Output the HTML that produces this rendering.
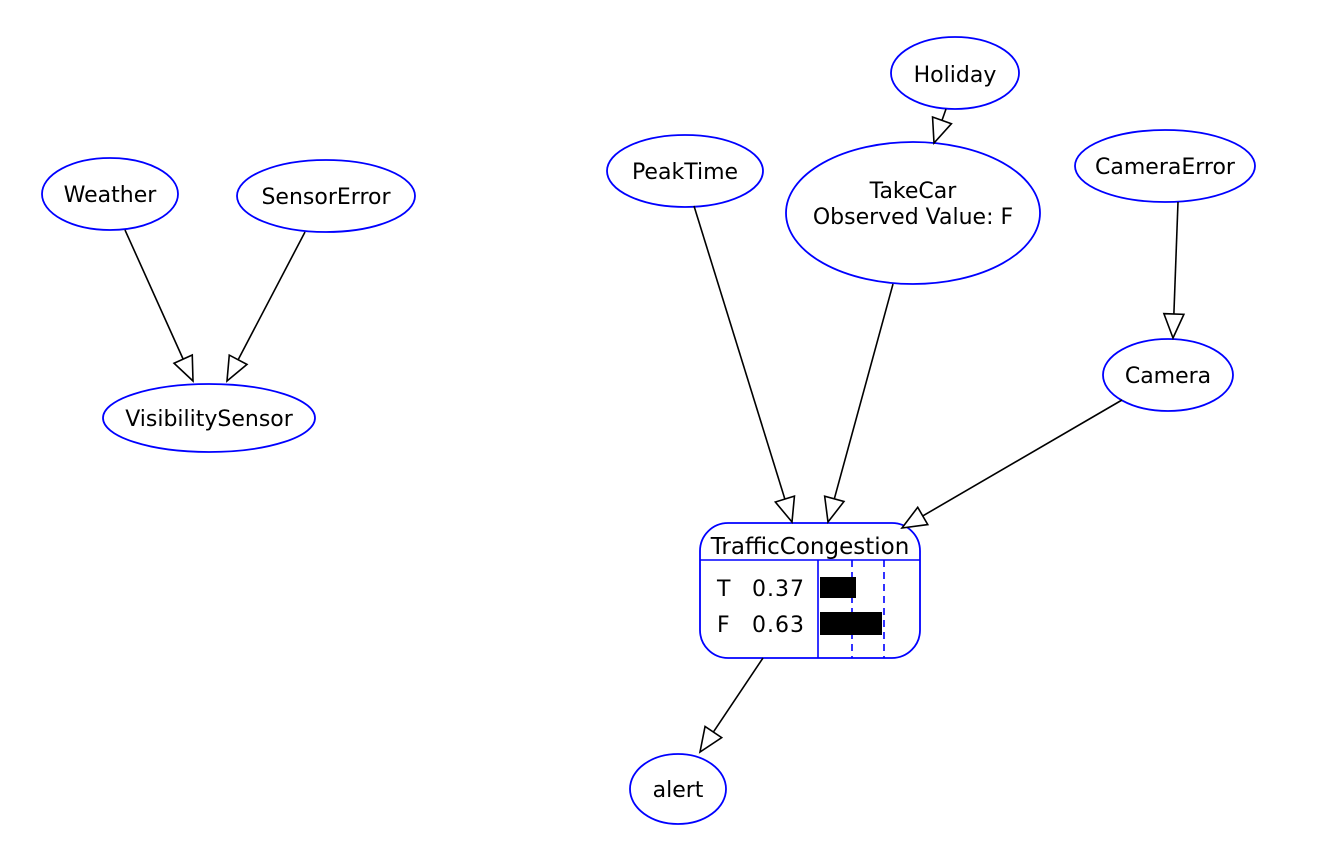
<!DOCTYPE html>
<html><head><meta charset="utf-8"><style>
html,body{margin:0;padding:0;background:#fff;}
svg text{font-family:"DejaVu Sans","Liberation Sans",sans-serif;font-size:22px;fill:#000;}
</style></head><body>
<svg id="s" width="1318" height="838" xmlns="http://www.w3.org/2000/svg">
<g fill="#fff" stroke="#0000ff" stroke-width="1.8">
<ellipse cx="110" cy="194" rx="68" ry="36"/>
<ellipse cx="326" cy="196" rx="89" ry="36"/>
<ellipse cx="209" cy="418" rx="106" ry="34"/>
<ellipse cx="685" cy="171" rx="78" ry="36"/>
<ellipse cx="955" cy="73" rx="64" ry="36"/>
<ellipse cx="913" cy="213" rx="127" ry="71"/>
<ellipse cx="1165" cy="166" rx="90" ry="36"/>
<ellipse cx="1168" cy="375" rx="65" ry="36"/>
<ellipse cx="678" cy="789" rx="48" ry="35"/>
<rect x="700" y="523" width="220" height="135" rx="28" ry="28"/>
</g>
<g stroke="#0000ff" stroke-width="1.6">
<line x1="700" y1="560" x2="920" y2="560"/>
<line x1="818" y1="560" x2="818" y2="658"/>
<line x1="852" y1="560" x2="852" y2="658" stroke-dasharray="7,5"/>
<line x1="884" y1="560" x2="884" y2="658" stroke-dasharray="7,5"/>
</g>
<rect x="820" y="577" width="36" height="21" fill="#000"/>
<rect x="820" y="612" width="62" height="23" fill="#000"/>
<g text-anchor="middle">
<text x="110" y="202">Weather</text>
<text x="326" y="204">SensorError</text>
<text x="209" y="426">VisibilitySensor</text>
<text x="685" y="179">PeakTime</text>
<text x="955" y="82">Holiday</text>
<text x="913" y="198">TakeCar</text>
<text x="913" y="224">Observed Value: F</text>
<text x="1165" y="174">CameraError</text>
<text x="1168" y="383">Camera</text>
<text x="678" y="797">alert</text>
<text x="810" y="554" style="font-size:23px">TrafficCongestion</text>
</g>
<text x="717" y="596">T</text><text x="752" y="596" letter-spacing="1">0.37</text>
<text x="717" y="632">F</text><text x="752" y="632" letter-spacing="1">0.63</text>
<g id="arrows" stroke="#000" stroke-width="1.6" fill="#fff"></g>
</svg>
<script>
var A=[[125,230,193,381],[305,232,227,381],[694,206,792,522],[893,284,828,522],[1122,400,902,528],[946,109,934,143],[1178,202,1173,338],[763,658,700,752]];
var g=document.getElementById('arrows'),h='';
A.forEach(function(a){var dx=a[2]-a[0],dy=a[3]-a[1],L=Math.hypot(dx,dy),ux=dx/L,uy=dy/L,al=24,aw=10;
var bx=a[2]-ux*al,by=a[3]-uy*al;
h+='<line x1="'+a[0]+'" y1="'+a[1]+'" x2="'+bx+'" y2="'+by+'"/>';
h+='<polygon points="'+a[2]+','+a[3]+' '+(bx-uy*aw)+','+(by+ux*aw)+' '+(bx+uy*aw)+','+(by-ux*aw)+'"/>';});
g.innerHTML=h;
</script>
</body></html>
